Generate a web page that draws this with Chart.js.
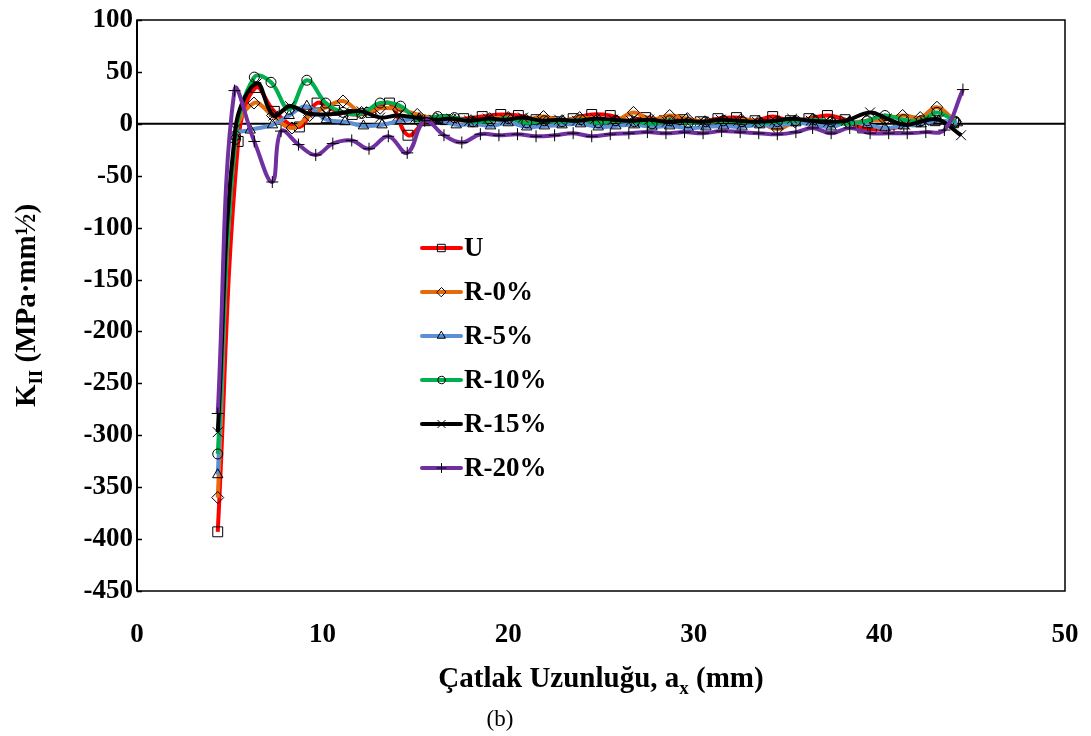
<!DOCTYPE html>
<html>
<head>
<meta charset="utf-8">
<script src="https://cdn.jsdelivr.net/npm/chart.js@4.4.0/dist/chart.umd.min.js"></script>
<style>
  html, body { margin: 0; padding: 0; background: #fff; }
  #kChart { display: block; }
</style>
</head>
<body>
<canvas id="kChart" width="1091" height="736"></canvas>
<script>
// Datos (a_x en mm, K_II en MPa·mm^1/2)
const xU   = [4.35, 5.45, 6.4, 7.4, 8.75, 9.7, 10.65, 11.6, 12.6, 13.6, 14.6, 15.6, 16.6, 17.6, 18.6, 19.6, 20.55, 21.5, 22.5, 23.5, 24.5, 25.5, 26.45, 27.4, 28.4, 29.4, 30.35, 31.3, 32.3, 33.3, 34.25, 35.2, 36.2, 37.2, 38.15, 39.1, 40.1, 41.05, 42.0, 43.0, 44.0];
const kU   = [-393, -17, 35, 12, -3, 20, 13, 9, 11, 20, -11, 3, 4, 5, 7, 9, 8, 4, 2, 5, 9, 8, 3, 6, 3, 4, 2, 5, 6, 3, 7, 3, 5, 8, 4, -4, -5, -3, 2, 3, 1];

const xR0  = [4.35, 5.3, 6.3, 7.3, 8.35, 9.3, 10.2, 11.1, 12.1, 13.1, 14.1, 15.1, 16.1, 17.05, 18.0, 19.0, 20.0, 20.95, 21.9, 22.9, 23.85, 24.8, 25.8, 26.75, 27.7, 28.7, 29.65, 30.6, 31.6, 32.55, 33.5, 34.5, 35.45, 36.4, 37.4, 38.35, 39.3, 40.3, 41.25, 42.2, 43.1, 44.1];
const kR0  = [-360, -12, 20, 8, -4, 8, 16, 22, 11, 15, 14, 9, 5, 4, 3, 5, 6, 4, 7, 3, 6, 4, 3, 11, 4, 8, 5, 2, 3, 4, 2, -5, 2, 4, 2, 1, 3, 4, 8, 6, 16, 2];

const xR5  = [4.35, 5.3, 6.1, 7.3, 8.2, 9.15, 10.2, 11.2, 12.2, 13.2, 14.2, 15.2, 16.2, 17.2, 18.1, 19.05, 20.0, 21.0, 21.95, 22.9, 23.9, 24.85, 25.8, 26.8, 27.75, 28.7, 29.7, 30.65, 31.6, 32.6, 33.55, 34.5, 35.5, 36.45, 37.4, 38.4, 39.35, 40.3, 41.3, 42.25, 43.2, 44.2];
const kR5  = [-338, -12, -6, -1, 8, 17, 4, 2, -2, -1, 3, 5, 4, -1, 0, -2, 1, -3, -2, -1, 0, -3, -2, -1, -3, -2, -4, -3, -2, -3, -1, -2, 1, -1, -3, 2, -1, -4, -2, 0, 3, 1];

const xR10 = [4.35, 5.3, 6.32, 7.22, 8.2, 9.15, 10.17, 11.1, 12.1, 13.1, 14.2, 15.2, 16.2, 17.1, 18.1, 19.05, 20.0, 21.0, 21.95, 22.9, 23.9, 24.85, 25.8, 26.8, 27.75, 28.7, 29.7, 30.65, 31.6, 32.6, 33.55, 34.5, 35.5, 36.45, 37.4, 38.4, 39.35, 40.3, 41.3, 42.25, 43.1, 44.1];
const kR10 = [-318, -15, 45, 40, 14, 42, 20, 11, 10, 20, 17, 3, 7, 6, 2, 3, 5, 1, 3, 2, 4, 1, 3, 2, 0, 3, 1, 2, 3, 2, 1, 2, 3, 4, 2, 0, 3, 8, 4, 3, 11, 2];

const xR15 = [4.35, 5.3, 6.45, 7.35, 8.25, 9.2, 10.2, 11.15, 12.1, 13.1, 14.05, 15.0, 16.0, 16.95, 17.9, 18.9, 19.85, 20.8, 21.8, 22.75, 23.7, 24.7, 25.65, 26.6, 27.6, 28.55, 29.5, 30.5, 31.45, 32.4, 33.4, 34.35, 35.3, 36.3, 37.25, 38.2, 39.5, 40.4, 41.4, 42.4, 43.2, 44.4];
const kR15 = [-297, -5, 39, 8, 17, 10, 9, 11, 12, 6, 8, 6, 4, 5, 3, 5, 4, 6, 3, 4, 3, 5, 4, 3, 4, 2, 3, 2, 4, 3, 2, 3, 5, 3, 2, 3, 11, 5, -1, 3, 4, -11];

const xR20 = [4.35, 5.25, 6.32, 7.29, 7.76, 8.7, 9.63, 10.55, 11.57, 12.5, 13.54, 14.56, 15.5, 16.54, 17.5, 18.5, 19.5, 20.5, 21.5, 22.5, 23.5, 24.5, 25.5, 26.5, 27.5, 28.5, 29.5, 30.5, 31.5, 32.5, 33.5, 34.5, 35.5, 36.4, 37.4, 38.4, 39.5, 40.5, 41.5, 42.5, 43.5, 44.5];
const kR20 = [-279, 32, -17, -56, -7, -20, -30, -19, -16, -24, -12, -28, 3, -11, -18, -10, -11, -10, -12, -11, -9, -12, -10, -9, -8, -9, -8, -9, -7, -8, -9, -10, -8, -4, -9, -4, -9, -9, -9, -8, -6, 33];

const seriesNames = ['U', 'R-0%', 'R-5%', 'R-10%', 'R-15%', 'R-20%'];
const seriesColors = ['#FF0000', '#E46C0A', '#5B8FD6', '#00B050', '#000000', '#7030A0'];
const seriesMarkers = ['rect', 'rectRot', 'triangle', 'circle', 'crossRot', 'cross'];
const markerSizes = [7, 6, 6, 5, 7, 6];

const yTicks = [100, 50, 0, -50, -100, -150, -200, -250, -300, -350, -400, -450];
const xTicks = [0, 10, 20, 30, 40, 50];

const allX = [xU, xR0, xR5, xR10, xR15, xR20];
const allK = [kU, kR0, kR5, kR10, kR15, kR20];

const FONT = "'Liberation Serif', 'Times New Roman', serif";

function toPoints(xs, ks) {
  return xs.map((x, i) => ({ x: x, y: ks[i] }));
}

// Ejes, marco, títulos y leyenda dibujados a mano
const decorPlugin = {
  id: 'decor',
  beforeDatasetsDraw(chart) {
    const { ctx, chartArea: a, scales } = chart;
    const y0 = scales.y.getPixelForValue(0);
    ctx.save();
    ctx.strokeStyle = '#000';
    ctx.lineWidth = 2;
    ctx.beginPath();
    ctx.moveTo(a.left, y0);
    ctx.lineTo(a.right, y0);
    ctx.stroke();
    ctx.restore();
  },
  afterDraw(chart) {
    const { ctx, chartArea: a, scales } = chart;
    ctx.save();
    // marco
    ctx.strokeStyle = '#000';
    ctx.lineWidth = 1.5;
    ctx.strokeRect(a.left, a.top, a.right - a.left, a.bottom - a.top);
    ctx.lineWidth = 2;
    ctx.beginPath();
    ctx.moveTo(a.left, a.top);
    ctx.lineTo(a.left, a.bottom);
    ctx.stroke();
    // marcas del eje y (hacia dentro)
    ctx.lineWidth = 1.5;
    yTicks.forEach(v => {
      const py = Math.round(scales.y.getPixelForValue(v)) + 0.5;
      ctx.beginPath();
      ctx.moveTo(a.left, py);
      ctx.lineTo(a.left + 5, py);
      ctx.stroke();
    });

    ctx.fillStyle = '#000';
    // título eje x
    const xt = [['Çatlak Uzunluğu, a', 'bold 29px ' + FONT, 0], ['x', 'bold 19px ' + FONT, 7], [' (mm)', 'bold 29px ' + FONT, 0]];
    drawRich(ctx, xt, (a.left + a.right) / 2, 687);

    // título eje y
    ctx.save();
    ctx.translate(25, (a.top + a.bottom) / 2);
    ctx.rotate(-Math.PI / 2);
    const yt = [['K', 'bold 29px ' + FONT, 0], ['II', 'bold 19px ' + FONT, 7], [' (MPa·mm½)', 'bold 29px ' + FONT, 0]];
    drawRich(ctx, yt, 0, 10);
    ctx.restore();

    // etiqueta (b)
    ctx.font = '23px ' + FONT;
    ctx.textAlign = 'center';
    ctx.textBaseline = 'alphabetic';
    ctx.fillText('(b)', 500, 726);

    // leyenda
    const lx = 422, lx2 = 461, ly0 = 248, dy = 44;
    seriesNames.forEach((name, i) => {
      const ly = ly0 + i * dy;
      ctx.strokeStyle = seriesColors[i];
      ctx.lineWidth = 4;
      ctx.lineCap = 'round';
      ctx.beginPath();
      ctx.moveTo(lx, ly);
      ctx.lineTo(lx2, ly);
      ctx.stroke();
      ctx.strokeStyle = '#000';
      ctx.fillStyle = 'rgba(0,0,0,0)';
      ctx.lineWidth = 1;
      Chart.helpers.drawPoint(ctx, { pointStyle: seriesMarkers[i], radius: markerSizes[i] * 0.75, rotation: 0, borderWidth: 1 }, (lx + lx2) / 2, ly);
      ctx.fillStyle = '#000';
      ctx.font = 'bold 27px ' + FONT;
      ctx.textAlign = 'left';
      ctx.textBaseline = 'middle';
      ctx.fillText(name, 464, ly + 1);
    });
    ctx.restore();
  }
};

function drawRich(ctx, parts, cx, baseY) {
  let total = 0;
  parts.forEach(p => { ctx.font = p[1]; total += ctx.measureText(p[0]).width; });
  let x = cx - total / 2;
  ctx.textAlign = 'left';
  ctx.textBaseline = 'alphabetic';
  parts.forEach(p => {
    ctx.font = p[1];
    ctx.fillText(p[0], x, baseY + p[2]);
    x += ctx.measureText(p[0]).width;
  });
}

const datasets = seriesNames.map((name, i) => ({
  label: name,
  data: toPoints(allX[i], allK[i]),
  borderColor: seriesColors[i],
  borderWidth: 4,
  tension: 0.4,
  fill: false,
  pointStyle: seriesMarkers[i],
  pointRadius: markerSizes[i],
  pointBorderColor: '#000',
  pointBorderWidth: 1,
  pointBackgroundColor: 'rgba(0,0,0,0)',
  order: seriesNames.length - i // la última serie queda encima, como en Excel
}));

new Chart(document.getElementById('kChart').getContext('2d'), {
  type: 'line',
  data: { datasets },
  options: {
    responsive: false,
    animation: false,
    layout: { padding: { top: 20, right: 26, left: 0, bottom: 0 }, autoPadding: false },
    plugins: { legend: { display: false }, tooltip: { enabled: false } },
    scales: {
      x: {
        type: 'linear',
        min: 0, max: 50,
        afterBuildTicks: s => { s.ticks = xTicks.map(v => ({ value: v })); },
        afterFit: s => { s.height = 145; s.paddingLeft = 0; s.paddingRight = 0; },
        grid: { display: false, drawTicks: false },
        border: { display: false },
        ticks: { font: { family: FONT, size: 27, weight: 'bold' }, color: '#000', padding: 28, maxRotation: 0 }
      },
      y: {
        type: 'linear',
        min: -450, max: 100,
        afterBuildTicks: s => { s.ticks = yTicks.map(v => ({ value: v })); },
        afterFit: s => { s.width = 137; s.paddingTop = 0; s.paddingBottom = 0; },
        grid: { display: false, drawTicks: false },
        border: { display: false },
        ticks: { font: { family: FONT, size: 27, weight: 'bold' }, color: '#000', padding: 4 }
      }
    }
  },
  plugins: [decorPlugin]
});
</script>
</body>
</html>
